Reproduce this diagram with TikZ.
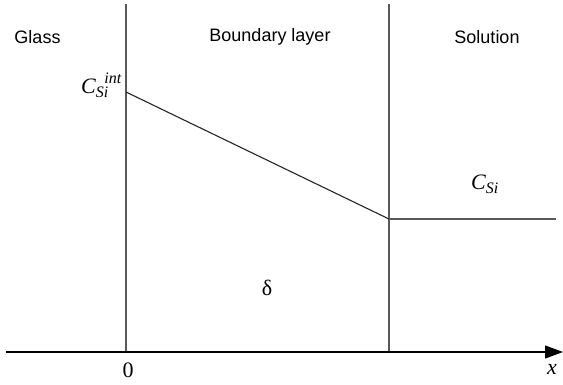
\documentclass[tikz,border=0pt]{standalone}
\usepackage{fontspec}
\setmainfont{Liberation Serif}
\setsansfont{Liberation Sans}
\usetikzlibrary{arrows.meta}
\tikzset{
  region/.style={font=\sffamily\fontsize{18}{20}\selectfont, inner sep=0pt},
  symb/.style={font=\fontsize{22}{24}\selectfont, inner sep=0pt},
  divider/.style={draw=black!65, line width=1.2pt},
  profile/.style={draw=black!85, line width=1.1pt},
  axis/.style={draw=black, line width=1.2pt, -{Triangle[length=18pt,width=13pt]}}
}
\newcommand{\smallidx}[1]{{\fontsize{16}{16}\selectfont #1}}
\begin{document}
\begin{tikzpicture}[x=1pt,y=-1pt]
\useasboundingbox (0,0) rectangle (563,384);
% coordinates
\coordinate (v1top) at (126,4);
\coordinate (v1bot) at (126,352);
\coordinate (v2top) at (389,4);
\coordinate (v2bot) at (389,352);
\coordinate (axstart) at (6,352);
\coordinate (axend) at (563,352);
\coordinate (p1) at (126,92);
\coordinate (p2) at (389,219);
\coordinate (p3) at (556,219);
% dividers
\draw[divider] (v1top) -- (v1bot);
\draw[divider] (v2top) -- (v2bot);
% axis
\draw[axis] (axstart) -- (axend);
% profile
\draw[profile] (p1) -- (p2);
\draw[divider] (p2) -- (p3);
% region labels
\node[region] (glass) at (37.5,37) {Glass};
\node[region] (bl) at (270,37) {Boundary layer};
\node[region] (sol) at (487,37) {Solution};
% symbols
\node[symb, anchor=base west] (cint) at (81,93)
  {\itshape C\raisebox{-4pt}{\smallidx{Si}}\kern-4pt\raisebox{10pt}{\smallidx{int}}};
\node[symb, anchor=base west] (csi) at (471,189)
  {\itshape C\raisebox{-4pt}{\smallidx{Si}}};
\node[symb] (delta) at (267,288) {δ};
\node[symb] (zero) at (128,370) {0};
\node[symb] (xlab) at (552,369) {\itshape x};
\end{tikzpicture}
\end{document}
